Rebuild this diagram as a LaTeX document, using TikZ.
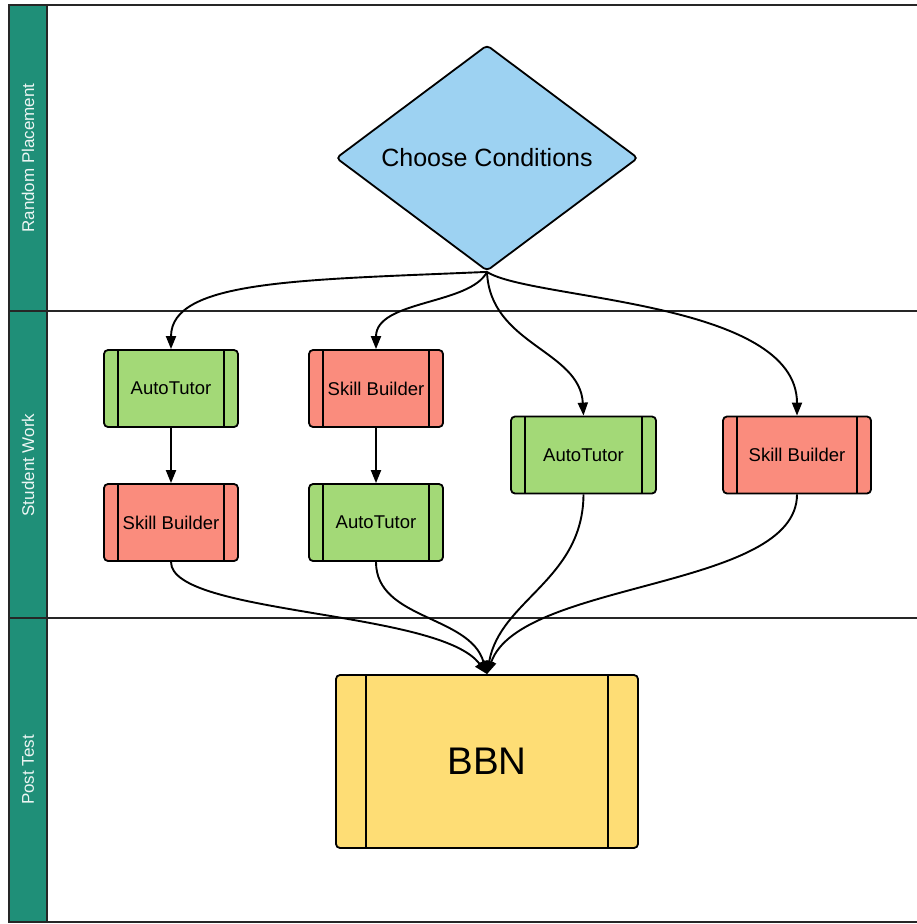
\documentclass[tikz,border=0pt]{standalone}
\usepackage{fontspec}
\setmainfont{Liberation Sans}
\usetikzlibrary{shapes.geometric,arrows.meta}
\definecolor{band}{HTML}{1F8F78}
\definecolor{diamondfill}{HTML}{9DD2F2}
\definecolor{greenbox}{HTML}{A3D977}
\definecolor{redbox}{HTML}{FA8C7D}
\definecolor{yellowbox}{HTML}{FEDD75}
\tikzset{
  proc/.style={draw=black, line width=1.8pt, rounded corners=4pt, inner sep=0pt,
    font=\fontsize{18.5}{20}\selectfont,
    path picture={
      \draw[line width=1.8pt] ([xshift=#1]path picture bounding box.north west) -- ([xshift=#1]path picture bounding box.south west);
      \draw[line width=1.8pt] ([xshift=-#1]path picture bounding box.north east) -- ([xshift=-#1]path picture bounding box.south east);
    }},
  smallbox/.style={proc=14pt, minimum width=134pt, minimum height=77pt},
  atbox/.style={smallbox, fill=greenbox},
  sbbox/.style={smallbox, fill=redbox},
  flow/.style={line width=1.9pt, -{Triangle[length=13pt,width=10pt]}},
  lanelabel/.style={rotate=90, text=white!92!band, font=\fontsize{17}{19}\selectfont},
  laneline/.style={line width=1.9pt, draw=black!85},
}
\begin{document}
\begin{tikzpicture}[x=1pt,y=-1pt]
\useasboundingbox (0,0) rectangle (917,924);
% lanes
\fill[band] (9,5) rectangle (47,922);
\draw[laneline] (917,5) -- (9,5) -- (9,922) -- (917,922);
\draw[laneline] (47,5) -- (47,922);
\draw[laneline] (9,311) -- (917,311);
\draw[laneline] (9,618) -- (917,618);
\node[lanelabel] (l1) at (28,158) {Random Placement};
\node[lanelabel] (l2) at (28,465) {Student Work};
\node[lanelabel] (l3) at (28,770) {Post Test};
% nodes
\node[diamond, draw=black, line width=1.8pt, fill=diamondfill, aspect=1.336,
  minimum width=302pt, minimum height=226pt, inner sep=0pt, rounded corners=4pt,
  font=\fontsize{25}{27}\selectfont] (D) at (487,158) {Choose Conditions};
\node[atbox] (A1) at (171,388.5) {AutoTutor};
\node[sbbox] (S1) at (171,522.5) {Skill Builder};
\node[sbbox] (S2) at (376,388.5) {Skill Builder};
\node[atbox] (A2) at (376,522.5) {AutoTutor};
\node[atbox, minimum width=145pt] (A3) at (583.5,455) {AutoTutor};
\node[sbbox, minimum width=148pt] (S3) at (797,455) {Skill Builder};
\node[proc=30pt, fill=yellowbox, minimum width=302pt, minimum height=173pt,
  font=\fontsize{38.5}{40}\selectfont] (B) at (487,761.5) {BBN};
% connectors
\draw[flow] (D.south) .. controls (300,280) and (171,280) .. (A1.north);
\draw[flow] (D.south) .. controls (470,305) and (376,300) .. (S2.north);
\draw[flow] (D.south) .. controls (490,345) and (580,350) .. (A3.north);
\draw[flow] (D.south) .. controls (530,300) and (797,300) .. (S3.north);
\draw[flow] (A1.south) -- (S1.north);
\draw[flow] (S2.south) -- (A2.north);
\draw[flow] (S1.south) .. controls (171,615) and (440,610) .. (B.north);
\draw[flow] (A2.south) .. controls (376,620) and (470,615) .. (B.north);
\draw[flow] (A3.south) .. controls (583,580) and (500,600) .. (B.north);
\draw[flow] (S3.south) .. controls (797,590) and (520,580) .. (B.north);
\end{tikzpicture}
\end{document}
